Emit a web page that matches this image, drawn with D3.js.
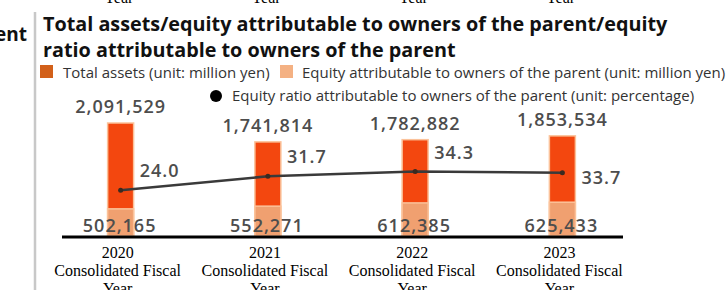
<!DOCTYPE html>
<html><head><meta charset="utf-8">
<script src="https://cdn.jsdelivr.net/npm/d3@7"></script>
<style>
html,body{margin:0;padding:0;background:#fff;}
svg{display:block;}
</style></head>
<body>
<script>
const years = ["2020", "2021", "2022", "2023"];
const totalAssets = [2091529, 1741814, 1782882, 1853534];
const equity = [502165, 552271, 612385, 625433];
const equityRatio = [24.0, 31.7, 34.3, 33.7];
const titleLines = ["Total assets/equity attributable to owners of the parent/equity", "ratio attributable to owners of the parent"];
const legendLabels = ["Total assets (unit: million yen)", "Equity attributable to owners of the parent (unit: million yen)", "Equity ratio attributable to owners of the parent (unit: percentage)"];
const axisLines = ["Consolidated Fiscal", "Year"];

const W = 727, H = 290;
const svg = d3.select("body").append("svg").attr("width", W).attr("height", H);

const baseY = 236;
const x = d3.scaleBand().domain(years).range([47, 636]).padding(0);
const y = d3.scaleLinear().domain([0, 2091529]).range([baseY, 123]);
const yr = d3.scaleLinear().domain([0, 100]).range([234, 52]);
const cx = d => x(d) + x.bandwidth() / 2;
const barW = 26;

// cut-off "Year" labels of the chart above
svg.append("g").selectAll("text").data(years).join("text")
  .attr("x", d => cx(d) - 2).attr("y", 3)
  .attr("text-anchor", "middle")
  .style("font-family", "'Liberation Serif', serif").style("font-size", "16px").attr("fill", "#000")
  .text("Year");

// cut-off left title
svg.append("text").attr("x", 27).attr("y", 41).attr("text-anchor", "end")
  .style("font-family", "'Open Sans', sans-serif").style("font-weight", "700").style("font-size", "19px")
  .attr("fill", "#111").text("Equity ratio attributable to owners of the parent");

// left border line
svg.append("line").attr("x1", 35).attr("x2", 35).attr("y1", 12).attr("y2", H)
  .attr("stroke", "#c8c8c8").attr("stroke-width", 2.5);

// title
svg.append("g").selectAll("text").data(titleLines).join("text")
  .attr("x", 43).attr("y", (d, i) => 31 + i * 26)
  .style("font-family", "'Open Sans', sans-serif").style("font-weight", "700").style("font-size", "19.8px")
  .attr("fill", "#111").text(d => d);

// legend
const lg = svg.append("g").style("font-family", "'Open Sans', sans-serif").style("font-size", "15px").attr("fill", "#333");
lg.append("rect").attr("x", 40).attr("y", 65).attr("width", 13).attr("height", 13).attr("fill", "#d2601a");
lg.append("text").attr("x", 63).attr("y", 78).text(legendLabels[0]);
lg.append("rect").attr("x", 280).attr("y", 65).attr("width", 13).attr("height", 13).attr("fill", "#f4b183");
lg.append("text").attr("x", 302).attr("y", 78).text(legendLabels[1]);
lg.append("circle").attr("cx", 216).attr("cy", 96).attr("r", 6).attr("fill", "#000");
lg.append("text").attr("x", 232).attr("y", 101).text(legendLabels[2]);

// total assets bars
svg.append("g").selectAll("rect").data(years).join("rect")
  .attr("x", d => cx(d) - barW / 2).attr("width", barW)
  .attr("y", (d, i) => y(totalAssets[i])).attr("height", (d, i) => baseY - y(totalAssets[i]))
  .attr("fill", "#f3470f").attr("stroke", "#fbc29a").attr("stroke-width", 1.5);

// equity bars
svg.append("g").selectAll("rect").data(years).join("rect")
  .attr("x", d => cx(d) - barW / 2).attr("width", barW)
  .attr("y", (d, i) => y(equity[i])).attr("height", (d, i) => baseY - y(equity[i]))
  .attr("fill", "#f0a070").attr("stroke", "#fbc29a").attr("stroke-width", 1.5);

// equity ratio line
const line = d3.line().x((d, i) => cx(years[i])).y(d => yr(d));
svg.append("path").datum(equityRatio).attr("d", line)
  .attr("fill", "none").attr("stroke", "#3a3a3a").attr("stroke-width", 2.5);
svg.append("g").selectAll("circle").data(equityRatio).join("circle")
  .attr("cx", (d, i) => cx(years[i])).attr("cy", d => yr(d)).attr("r", 2.5).attr("fill", "#3a2a20");

// value labels
const lblStyle = s => s.style("font-family", "'Open Sans', sans-serif").style("font-weight", "600")
  .style("font-size", "18px").style("letter-spacing", "1px").attr("fill", "#4d4d4d");
svg.append("g").call(lblStyle).selectAll("text").data(totalAssets).join("text")
  .attr("x", (d, i) => cx(years[i])).attr("y", d => y(d) - 10).attr("text-anchor", "middle")
  .text(d3.format(","));
svg.append("g").call(lblStyle).selectAll("text").data(equity).join("text")
  .attr("x", (d, i) => cx(years[i]) - 1).attr("y", 232).attr("text-anchor", "middle")
  .text(d3.format(","));
svg.append("g").call(lblStyle).selectAll("text").data(equityRatio).join("text")
  .attr("x", (d, i) => cx(years[i]) + 19)
  .attr("y", (d, i) => i === equityRatio.length - 1 ? yr(d) + 11 : yr(d) - 13)
  .text(d3.format(".1f"));

// baseline
svg.append("line").attr("x1", 62).attr("x2", 623).attr("y1", baseY + 1).attr("y2", baseY + 1)
  .attr("stroke", "#000").attr("stroke-width", 3);

// x axis labels
const xl = svg.append("g").style("font-family", "'Liberation Serif', serif").style("font-size", "16px").attr("fill", "#000");
years.forEach(yv => {
  const t = xl.append("text").attr("x", cx(yv) - 3).attr("y", 258).attr("text-anchor", "middle");
  t.append("tspan").attr("x", cx(yv) - 3).attr("dy", 0).text(yv);
  axisLines.forEach(l => t.append("tspan").attr("x", cx(yv) - 3).attr("dy", 18).text(l));
});
</script>
</body></html>
